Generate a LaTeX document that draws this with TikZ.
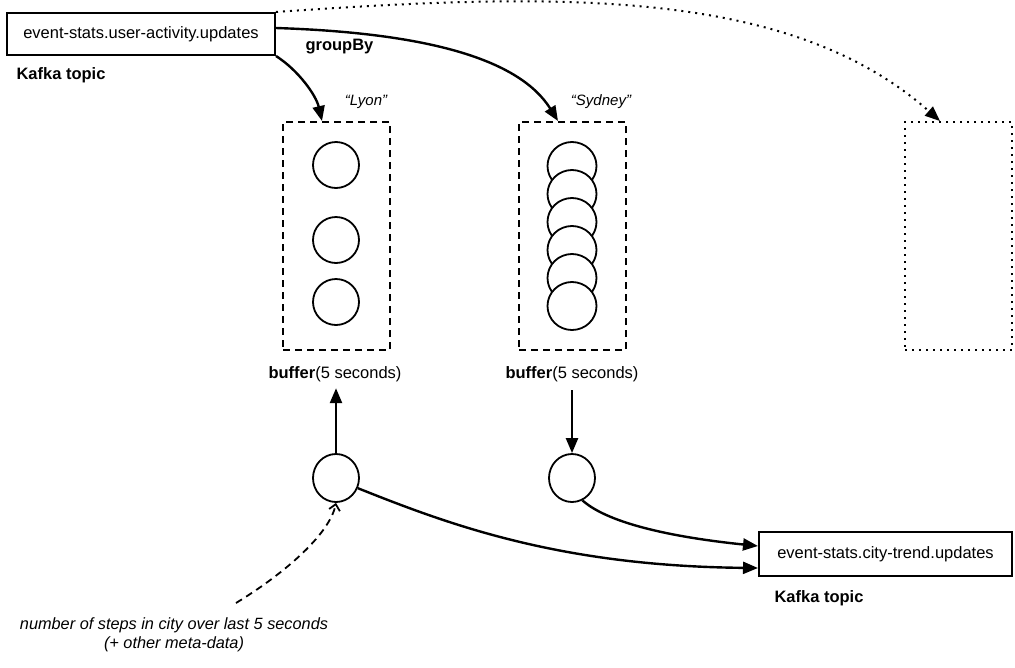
\documentclass[tikz,border=0pt]{standalone}
\usepackage{fontspec}
\setmainfont{Liberation Sans}
\usetikzlibrary{arrows.meta,shapes.geometric}
\begin{document}
\begin{tikzpicture}[x=1pt,y=-1pt,
  topic/.style={draw,line width=2pt,minimum height=42pt,inner sep=0pt,font=\fontsize{16.5}{19}\selectfont},
  lbl/.style={font=\fontsize{16.5}{19}\selectfont\bfseries},
  ital/.style={font=\fontsize{15}{17}\selectfont\itshape},
  note/.style={font=\fontsize{16.3}{18.5}\selectfont\itshape},
  bufbox/.style={draw,line width=1.8pt,dash pattern=on 7pt off 5pt,minimum width=107pt,minimum height=228pt,inner sep=0pt},
  dotbox/.style={draw,line width=2pt,dash pattern=on 2pt off 5pt,minimum width=107pt,minimum height=228pt,inner sep=0pt},
  ev/.style={draw,line width=1.8pt,ellipse,minimum width=46pt,minimum height=46pt,inner sep=0pt,fill=white},
  arr/.style={line width=2.4pt,-{Triangle[length=15pt,width=12pt]}},
]
\useasboundingbox (0,0) rectangle (1015,667);
% top topic
\node[topic,minimum width=268pt] (src) at (141,34) {event-stats.user-activity.updates};
\node[lbl,anchor=west] (k1) at (13,75) {Kafka topic};
\node[lbl,anchor=west] (gb) at (302,47) {groupBy};
% buffers
\node[bufbox] (lyon) at (336.5,236) {};
\node[bufbox] (syd) at (572.5,236) {};
\node[dotbox] (empty) at (958.5,236) {};
\node[ital] (ll) at (366,102) {“Lyon”};
\node[ital] (sl) at (601,102) {“Sydney”};
% lyon events
\node[ev] (l1) at (336,165) {};
\node[ev] (l2) at (336,240) {};
\node[ev] (l3) at (336,302) {};
% sydney events
\foreach \i/\y in {1/166,2/194,3/222,4/250,5/278,6/306}{
  \node[ev,minimum width=49pt,minimum height=48pt] (s\i) at (572,\y) {};
}
\node[font=\fontsize{16.5}{19}\selectfont] (bl) at (335,374) {\textbf{buffer}(5 seconds)};
\node[font=\fontsize{16.5}{19}\selectfont] (bs) at (572,374) {\textbf{buffer}(5 seconds)};
% output events
\node[ev,minimum width=46pt,minimum height=48pt] (o1) at (336,478) {};
\node[ev,minimum width=46pt,minimum height=48pt] (o2) at (572,478) {};
% output topic
\node[topic,minimum width=253pt,minimum height=44pt] (dst) at (885.5,554) {event-stats.city-trend.updates};
\node[lbl,anchor=west] (k2) at (771,598) {Kafka topic};
\node[note,align=center] (nt) at (174,635) {number of steps in city over last 5 seconds\\(+ other meta-data)};
% connectors
\coordinate (lyonIn) at (322,121);
\coordinate (sydIn) at (558,121);
\coordinate (empIn) at (940,121);
\draw[arr] (src.south east) .. controls (298,70) and (316,95) .. (lyonIn);
\draw[arr] ([yshift=6pt]src.east) .. controls (430,33) and (520,60) .. (sydIn);
\draw[line width=2pt,dash pattern=on 2pt off 5pt,-{Triangle[length=15pt,width=12pt]}] (src.north east) .. controls (560,-8) and (790,-12) .. (empIn);
\draw[arr] (o1.north) -- ([yshift=-3pt]bl.south -| o1.north);
\draw[arr] ([yshift=-5pt]bs.south -| o2.north) -- (o2.north);
\draw[arr] (o1.-25) .. controls (450,525) and (560,566) .. ([yshift=-14pt]dst.west);
\draw[arr] (o2.-65) .. controls (610,525) and (680,538) .. ([yshift=8pt]dst.west);
\draw[line width=1.8pt,dash pattern=on 7pt off 5pt,-{Straight Barb[length=6pt,width=11pt]}] (236,603) .. controls (290,570) and (330,532) .. (o1.south);
\end{tikzpicture}
\end{document}
